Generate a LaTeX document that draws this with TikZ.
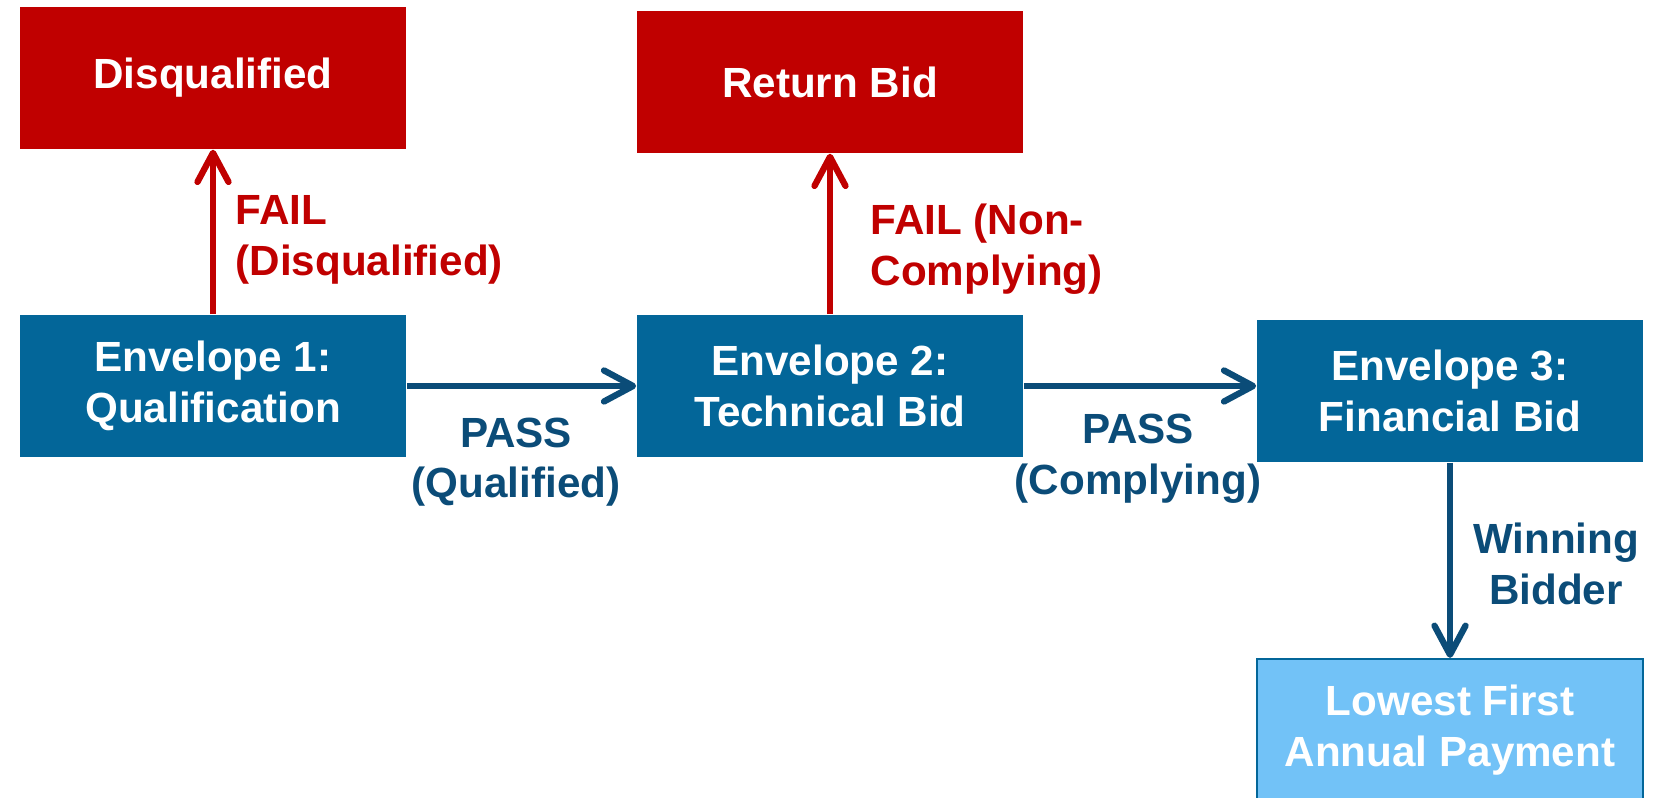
\documentclass[tikz,border=0pt]{standalone}
\usepackage{fontspec}
\setmainfont{Liberation Sans}
\usetikzlibrary{arrows.meta}
\definecolor{failred}{HTML}{C00000}
\definecolor{envblue}{HTML}{036699}
\definecolor{passblue}{HTML}{0B4C78}
\definecolor{winblue}{HTML}{72C2F7}
\begin{document}
\begin{tikzpicture}[x=0.01cm,y=-0.01cm,>={Straight Barb[length=2.9mm,width=3.1mm,round]},
            font=\fontsize{12}{14.4}\selectfont\bfseries,
            box/.style={minimum width=3.86cm,minimum height=1.42cm,inner sep=0pt,align=center,text=white},
            failbox/.style={box,fill=failred},
            envbox/.style={box,fill=envblue},
            winbox/.style={box,fill=winblue,draw=envblue,line width=0.6pt},
            failarrow/.style={->,failred,line width=1.8pt},
            passarrow/.style={->,passblue,line width=1.8pt},
            faillabel/.style={text=failred,align=left,anchor=west,inner sep=0pt},
            passlabel/.style={text=passblue,align=center,inner sep=0pt}]
            \useasboundingbox (0,0) rectangle (1660,798);
            % boxes
            \node[failbox] (disq) at (213,78) {Disqualified};
            \node[failbox] (retbid) at (830,82) {Return Bid};
            \node[envbox] (env1) at (213,386) {Envelope 1:\\Qualification};
            \node[envbox] (env2) at (830,386) {Envelope 2:\\Technical Bid};
            \node[envbox] (env3) at (1450,391) {Envelope 3:\\Financial Bid};
            \node[winbox] (lowest) at (1450,730) {Lowest First\\Annual Payment};
            % arrows
            \draw[failarrow] (env1.north) -- (disq.south);
            \draw[failarrow] (env2.north) -- (retbid.south);
            \draw[passarrow] (env1.east) -- (env2.west);
            \draw[passarrow] (env2.east) -- (env2.east -| env3.west);
            \draw[passarrow] (env3.south) -- (lowest.north);
            % labels
            \node[faillabel] (faildq) at (235,240) {FAIL\\(Disqualified)};
            \node[faillabel] (failnc) at (870,249) {FAIL (Non-\\Complying)};
            \node[passlabel] (passq) at (516,462) {PASS\\(Qualified)};
            \node[passlabel] (passc) at (1138,459) {PASS\\(Complying)};
            \node[passlabel] (winner) at (1556,564) {Winning\\Bidder};
        \end{tikzpicture}
\end{document}
